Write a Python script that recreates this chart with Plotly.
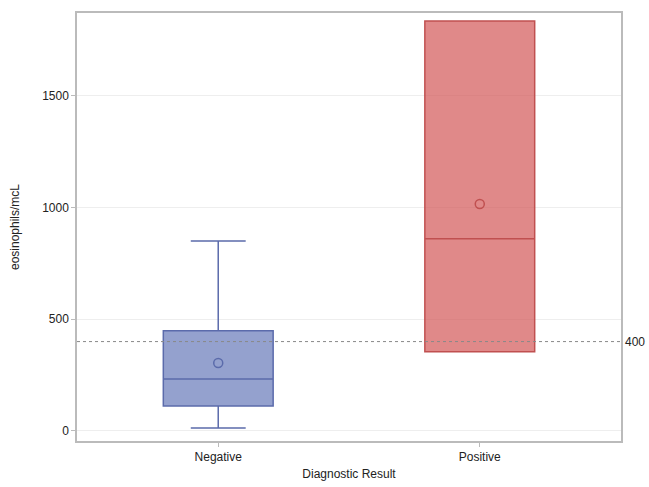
import plotly.graph_objects as go

categories = ["Negative", "Positive"]
q1 = [112, 354]
median = [233, 860]
q3 = [448, 1835]
lower = [13, 354]
upper = [850, 1835]
means = [304, 1016]
ref_value = 400

fills = ["rgba(112,130,190,0.75)", "rgba(212,92,92,0.72)"]
lines = ["#5b6bab", "#c05050"]

fig = go.Figure()
for i, c in enumerate(categories):
    fig.add_trace(go.Box(
        x=[c], q1=[q1[i]], median=[median[i]], q3=[q3[i]],
        lowerfence=[lower[i]], upperfence=[upper[i]],
        fillcolor=fills[i], line=dict(color=lines[i], width=1.5),
        width=0.42, whiskerwidth=0.5, showlegend=False, boxpoints=False,
    ))
    fig.add_trace(go.Scatter(
        x=[c], y=[means[i]], mode="markers",
        marker=dict(symbol="circle-open", size=9, color=lines[i], line=dict(width=1.5)),
        showlegend=False,
    ))

fig.add_hline(y=ref_value, line=dict(color="#888888", width=1, dash="dot"))
fig.add_annotation(x=1, xref="paper", y=ref_value, yref="y", text=str(ref_value),
                   showarrow=False, xanchor="left", xshift=2,
                   font=dict(size=12, color="#222222"))

fig.update_layout(
    width=649, height=487,
    margin=dict(l=77, r=28, t=13, b=46, autoexpand=False),
    paper_bgcolor="white", plot_bgcolor="white",
    font=dict(family="Liberation Sans, Arial, sans-serif", size=12, color="#222222"),
)
fig.update_xaxes(
    type="category", range=[-0.54, 1.54], automargin=False,
    showline=True, linecolor="#bbbbbb", linewidth=1.5, mirror=True,
    ticks="outside", ticklen=4, tickcolor="#bbbbbb", showgrid=False,
    title=dict(text="Diagnostic Result", font=dict(size=12), standoff=6),
)
fig.update_yaxes(
    range=[-45, 1871], tickvals=[0, 500, 1000, 1500], automargin=False,
    showline=True, linecolor="#bbbbbb", linewidth=1.5, mirror=True,
    ticks="outside", ticklen=4, tickcolor="#bbbbbb",
    showgrid=True, gridcolor="#eeeeee", zeroline=False,
    title=dict(text="eosinophils/mcL", font=dict(size=12), standoff=20),
)

fig.write_html(
    "out.html",
    config={"displayModeBar": False},
    post_script="document.body.style.margin='0';document.body.style.overflow='hidden';",
)
